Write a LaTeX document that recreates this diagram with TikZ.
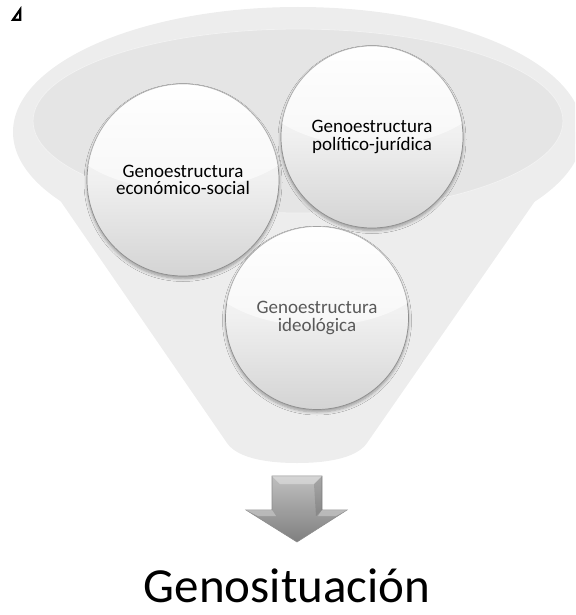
\documentclass[tikz,border=0pt]{standalone}
\usepackage{fontspec}
\setmainfont{Carlito}
\usetikzlibrary{shadows.blur}
\definecolor{funnelc}{HTML}{EDEDED}
\definecolor{innerc}{HTML}{E5E5E5}
\definecolor{innerline}{HTML}{F2F2F2}
\definecolor{rimc}{HTML}{8E8E8E}
\definecolor{greytext}{HTML}{595959}
\tikzset{
  bubble/.style={circle, minimum size=#1, inner sep=0pt, draw=rimc, line width=0.7pt,
    top color=white, bottom color=black!17, middle color=black!6,
    blur shadow={shadow xshift=0pt, shadow yshift=-2.5pt, shadow blur steps=6, shadow opacity=35, shadow blur radius=3pt}},
  bubbletext/.style={align=center, font=\fontsize{19}{17.5}\selectfont, text=black},
  gloss/.style={fill=white, fill opacity=0.55, draw=none},
}
\begin{document}
\begin{tikzpicture}[x=1pt,y=-1pt]
\useasboundingbox (0,0) rectangle (575,615);
\begin{scope}
\clip (0,0) rectangle (575,615);
% funnel
\fill[funnelc] (298,132) ellipse [x radius=285, y radius=125];
\fill[funnelc] (13,132) -- (227,443) .. controls (236,456) and (260,463) .. (297,463)
  .. controls (334,463) and (358,456) .. (367,443) -- (583,132) -- cycle;
\filldraw[fill=innerc, draw=innerline, line width=0.8pt] (298,121) ellipse [x radius=265, y radius=92];
\end{scope}
% mark
\draw[line width=2.2pt, line join=miter] (13,19.8) -- (20.2,9.5) -- (20.2,19.8) -- cycle;
% circles
\node[bubble=183pt] (ideo) at (317,318) {};
\begin{scope}
\clip (317,318) circle (91.5);
\fill[gloss] (317,262) ellipse [x radius=118, y radius=64];
\end{scope}
\node[bubbletext, text=greytext] at (317,318) {Genoestructura\\ideológica};

\node[bubble=192pt] (econ) at (183,180) {};
\begin{scope}
\clip (183,180) circle (96);
\fill[gloss] (183,122) ellipse [x radius=124, y radius=68];
\end{scope}
\node[bubbletext] at (183,180) {Genoestructura\\económico-social};

\node[bubble=182pt] (poli) at (372,137) {};
\begin{scope}
\clip (372,137) circle (91);
\fill[gloss] (372,82) ellipse [x radius=118, y radius=64];
\end{scope}
\node[bubbletext] at (372,137) {Genoestructura\\político-jurídica};

% arrow
\path[top color=black!25, bottom color=black!50, draw=black!45, line width=0.6pt]
  (272,476) -- (322,476) -- (322,510) -- (347,510) -- (297,542) -- (246,510) -- (272,510) -- cycle;
\fill[white, opacity=0.35] (272,476) -- (322,476) -- (314,484) -- (280,484) -- cycle;
\fill[white, opacity=0.3] (246,510) -- (272,510) -- (276,516) -- (258,516) -- cycle;
\fill[white, opacity=0.3] (347,510) -- (322,510) -- (318,516) -- (336,516) -- cycle;
\fill[black, opacity=0.12] (322,476) -- (322,510) -- (316,516) -- (314,484) -- cycle;

% result text
\node[font=\fontsize{49}{49}\selectfont, anchor=base, text depth=0pt, inner sep=0pt] (res) at (287,602) {Genosituación};
\end{tikzpicture}
\end{document}
